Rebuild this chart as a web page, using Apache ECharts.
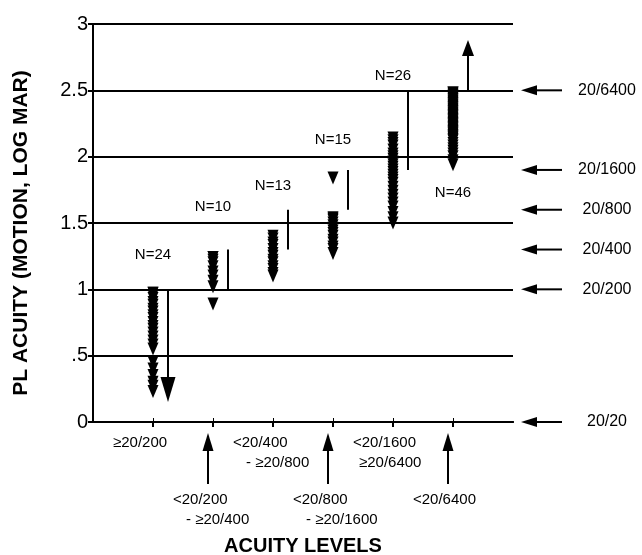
<!DOCTYPE html>
<html>
<head>
<meta charset="utf-8">
<script src="https://cdn.jsdelivr.net/npm/echarts@6/dist/echarts.min.js"></script>
<style>
html, body { margin: 0; padding: 0; background: #fff; }
#chart { width: 642px; height: 555px; }
</style>
</head>
<body>
<div id="chart"></div>
<script>
// acuity level groups on the x axis (1..6)
const levelLabels = [
  ['≥20/200'],
  ['<20/200', '- ≥20/400'],
  ['<20/400', '- ≥20/800'],
  ['<20/800', '- ≥20/1600'],
  ['<20/1600', '≥20/6400'],
  ['<20/6400']
]
const levelNs = [24, 10, 13, 15, 26, 46]
const nLabelY = [1.26, 1.62, 1.78, 2.13, 2.61, 1.73]

// PL acuity (log MAR) per child
const acuity1 = [0.97, 0.97, 0.95, 0.93, 0.9, 0.88, 0.85, 0.83, 0.8, 0.78, 0.75, 0.72,
  0.7, 0.67, 0.64, 0.61, 0.58, 0.55, 0.45, 0.4, 0.35, 0.3, 0.27, 0.23]
const acuity2 = [1.24, 1.24, 1.22, 1.2, 1.17, 1.13, 1.1, 1.06, 1.02, 0.89]
const acuity3 = [1.4, 1.38, 1.35, 1.33, 1.3, 1.27, 1.25, 1.22, 1.2, 1.17, 1.15, 1.12, 1.1]
const acuity4 = [1.84, 1.54, 1.53, 1.52, 1.5, 1.48, 1.46, 1.44, 1.42, 1.4, 1.37, 1.35, 1.32, 1.3, 1.27]
const acuity5 = [2.14, 2.12, 2.1, 2.08, 2.05, 2.02, 2.0, 1.98, 1.96, 1.94, 1.92, 1.9, 1.88,
  1.86, 1.84, 1.82, 1.8, 1.77, 1.74, 1.71, 1.68, 1.65, 1.62, 1.58, 1.54, 1.5]
const acuity6 = [2.48, 2.48, 2.47, 2.46, 2.45, 2.44, 2.43, 2.42, 2.41, 2.4, 2.39, 2.38,
  2.37, 2.36, 2.35, 2.34, 2.33, 2.32, 2.31, 2.3, 2.29, 2.28, 2.27, 2.26, 2.25, 2.24,
  2.23, 2.22, 2.21, 2.2, 2.19, 2.18, 2.17, 2.16, 2.15, 2.14, 2.13, 2.12, 2.1, 2.08,
  2.06, 2.04, 2.02, 2.0, 1.97, 1.94]
const acuityGroups = [acuity1, acuity2, acuity3, acuity4, acuity5, acuity6]

// expected range for each level (vertical bars)
const rangeLow = [0.15, 1.0, 1.3, 1.6, 1.9, 2.5]
const rangeHigh = [1.0, 1.3, 1.6, 1.9, 2.5, 2.88]
const rangeArrow = ['down', '', '', '', '', 'up']

// snellen equivalents on the right
const snellenLabels = ['20/6400', '20/1600', '20/800', '20/400', '20/200', '20/20']
const snellenLogMar = [2.5, 1.9, 1.6, 1.3, 1.0, 0]

const FONT = '"Liberation Sans", Arial, Helvetica, sans-serif'
const levelTicks = [1, 2, 3, 4, 5, 6]

function arrow (tail, tip, headLen, headW) {
  const dx = tip[0] - tail[0]
  const dy = tip[1] - tail[1]
  const len = Math.hypot(dx, dy)
  const ux = dx / len
  const uy = dy / len
  const bx = tip[0] - ux * headLen
  const by = tip[1] - uy * headLen
  const px = -uy * headW / 2
  const py = ux * headW / 2
  return [{
    type: 'line',
    shape: { x1: tail[0], y1: tail[1], x2: bx, y2: by },
    style: { stroke: '#000', lineWidth: 2 }
  }, {
    type: 'polygon',
    shape: { points: [tip, [bx + px, by + py], [bx - px, by - py]] },
    style: { fill: '#000' }
  }]
}

function text (str, x, y, size, align) {
  return {
    type: 'text',
    x: x,
    y: y,
    style: { text: str, fill: '#000', fontSize: size, fontFamily: FONT, align: align || 'left', verticalAlign: 'middle' }
  }
}

const points = []
acuityGroups.forEach((vals, i) => vals.forEach(v => points.push([i + 1, v])))

const chart = echarts.init(document.getElementById('chart'))
chart.setOption({
  animation: false,
  grid: { left: 93, right: 129, top: 24, bottom: 133, outerBoundsMode: 'none' },
  xAxis: [{
    type: 'value',
    position: 'bottom',
    min: 0,
    max: 7,
    name: 'ACUITY LEVELS',
    nameLocation: 'middle',
    nameGap: 114,
    nameTextStyle: { fontSize: 20, fontWeight: 'bold', color: '#000', fontFamily: FONT },
    axisLine: { show: true, lineStyle: { color: '#000', width: 2 } },
    axisTick: { show: true, customValues: levelTicks, length: 5, lineStyle: { color: '#000', width: 2 } },
    axisLabel: { show: false },
    splitLine: { show: false }
  }, {
    type: 'value',
    position: 'top',
    min: 0,
    max: 7,
    axisLine: { show: true, lineStyle: { color: '#000', width: 2 } },
    axisTick: { show: true, customValues: levelTicks, length: 4, lineStyle: { color: '#000', width: 1 } },
    axisLabel: { show: false },
    splitLine: { show: false }
  }],
  yAxis: [{
    type: 'value',
    position: 'left',
    min: 0,
    max: 3,
    interval: 0.5,
    name: 'PL ACUITY (MOTION, LOG MAR)',
    nameLocation: 'middle',
    nameRotate: 90,
    nameGap: 61,
    nameTextStyle: { fontSize: 21, fontWeight: 'bold', color: '#000', fontFamily: FONT, padding: [0, 20, 0, 0] },
    axisLine: { show: true, lineStyle: { color: '#000', width: 2 } },
    axisTick: { show: true, length: 5, lineStyle: { color: '#000', width: 2 } },
    axisLabel: {
      color: '#000',
      fontSize: 20,
      fontFamily: FONT,
      margin: 5,
      formatter: v => (v === 0.5 ? '.5' : String(v))
    },
    splitLine: { show: true, lineStyle: { color: '#000', width: 2 } }
  }, {
    type: 'value',
    position: 'right',
    min: 0,
    max: 3,
    interval: 0.5,
    axisLine: { show: true, lineStyle: { color: '#000', width: 2 } },
    axisTick: { show: true, length: 4, lineStyle: { color: '#000', width: 2 } },
    axisLabel: { show: false },
    splitLine: { show: false }
  }],
  series: [{
    type: 'scatter',
    data: points,
    symbol: 'triangle',
    symbolRotate: 180,
    symbolSize: [11, 13],
    itemStyle: { color: '#000', opacity: 1 },
    z: 5
  }, {
    // expected range bars
    type: 'custom',
    clip: false,
    data: levelTicks.map((x, i) => [x, rangeLow[i], rangeHigh[i]]),
    renderItem: (params, api) => {
      const x = api.value(0) + 0.25
      const lo = api.coord([x, api.value(1)])
      const hi = api.coord([x, api.value(2)])
      const dir = rangeArrow[params.dataIndex]
      let children
      if (dir === 'down') children = arrow(hi, lo, 25, 15)
      else if (dir === 'up') children = arrow(lo, hi, 16, 12)
      else {
        children = [{
          type: 'line',
          shape: { x1: lo[0], y1: lo[1], x2: hi[0], y2: hi[1] },
          style: { stroke: '#000', lineWidth: 2 }
        }]
      }
      return { type: 'group', children: children }
    },
    z: 4
  }, {
    // N labels
    type: 'custom',
    clip: false,
    data: levelTicks.map((x, i) => [x, nLabelY[i], levelNs[i]]),
    renderItem: (params, api) => {
      const p = api.coord([api.value(0), api.value(1)])
      return text('N=' + api.value(2), p[0], p[1], 15, 'center')
    },
    z: 6
  }, {
    // acuity level labels under the x axis, with arrows for every second level
    type: 'custom',
    clip: false,
    data: levelTicks.map(x => [x, 0]),
    renderItem: (params, api) => {
      const i = params.dataIndex
      const p = api.coord([api.value(0), 0])
      const lines = levelLabels[i]
      const lower = i % 2 === 1
      const top = p[1] + (lower ? 78 : 21)
      const children = []
      lines.forEach((s, k) => {
        const indent = k === 0 ? 0 : (s.startsWith('-') ? 13 : 6)
        children.push(text(s, p[0] - 40 + indent, top + k * 20, 15))
      })
      if (lower) {
        children.push(...arrow([p[0] - 5, p[1] + 62], [p[0] - 5, p[1] + 11], 18, 11))
      }
      return { type: 'group', children: children }
    },
    z: 6
  }, {
    // snellen equivalents on the right
    type: 'custom',
    clip: false,
    data: snellenLogMar.map(v => [7, v]),
    renderItem: (params, api) => {
      const p = api.coord([7, api.value(1)])
      const children = arrow([p[0] + 49, p[1]], [p[0] + 8, p[1]], 16, 10)
      children.push(text(snellenLabels[params.dataIndex], p[0] + 94, p[1], 16, 'center'))
      return { type: 'group', children: children }
    },
    z: 6
  }]
})
</script>
</body>
</html>
